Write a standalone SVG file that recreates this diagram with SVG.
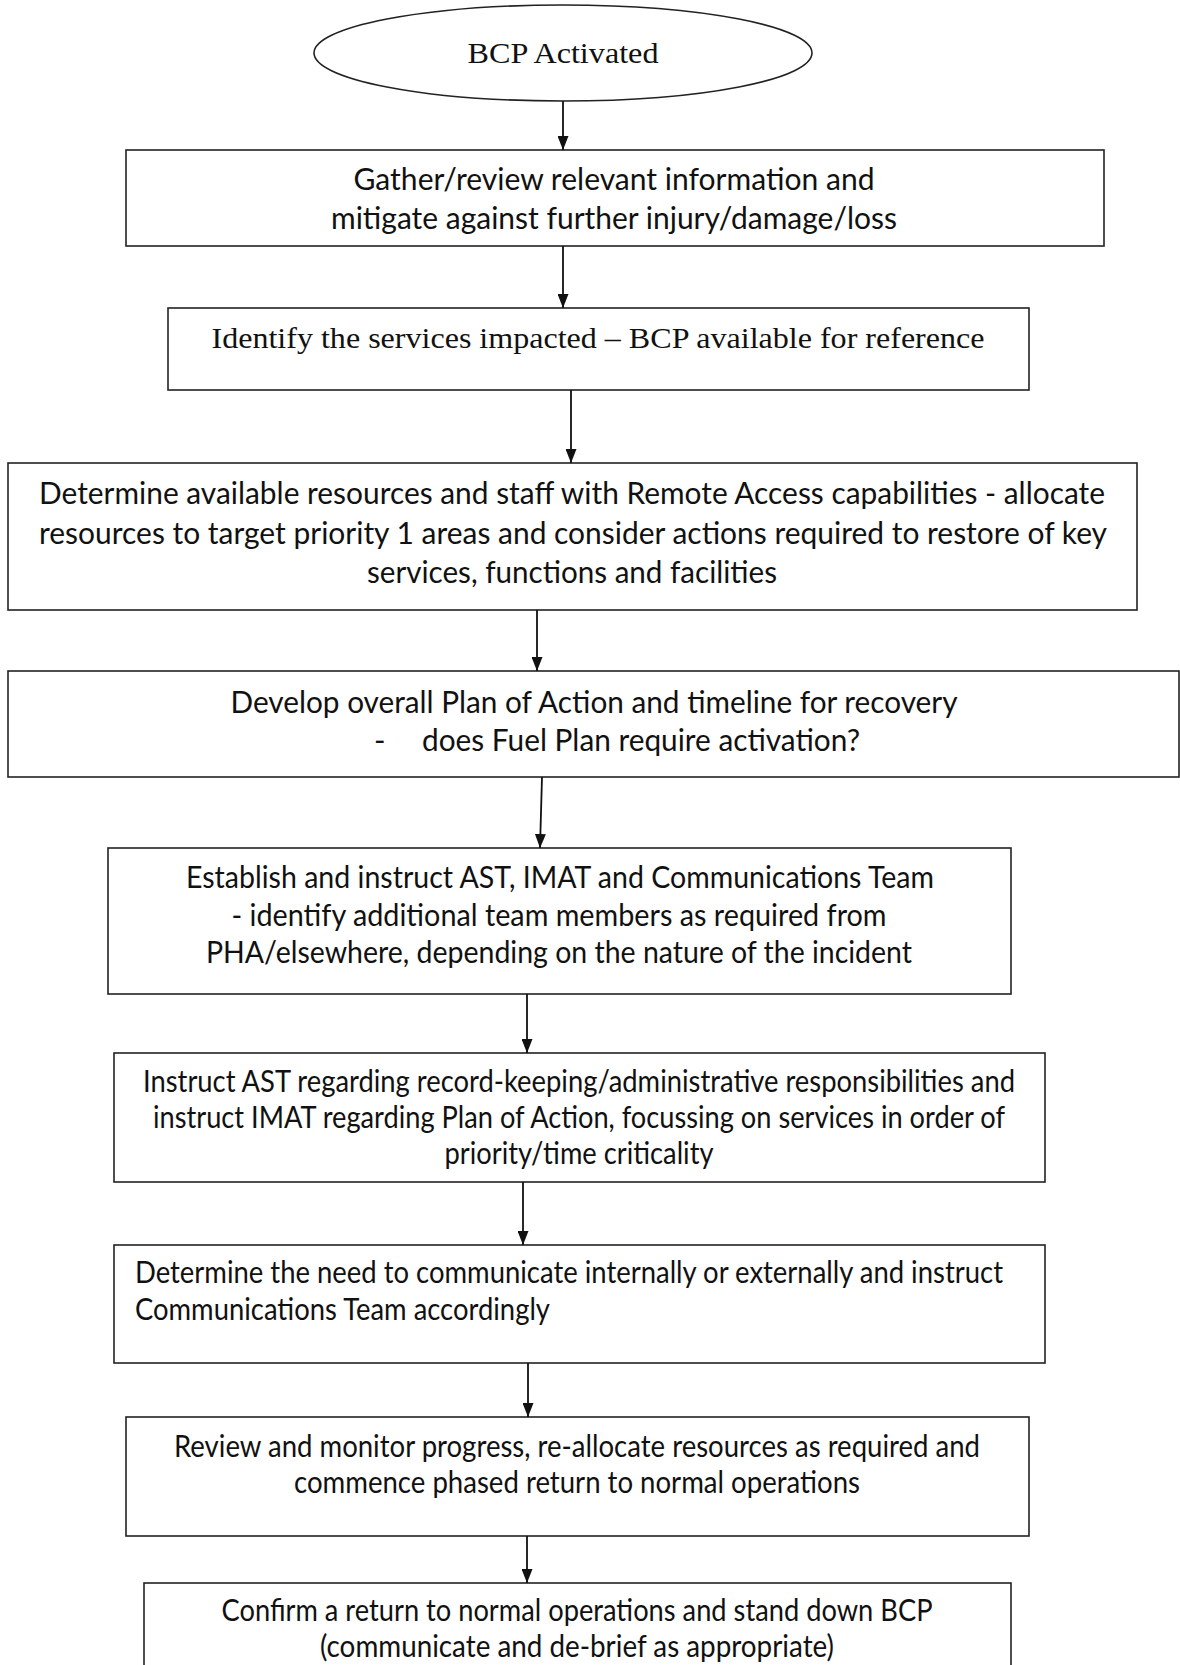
<svg xmlns="http://www.w3.org/2000/svg" width="1180" height="1665" viewBox="0 0 1180 1665">
<style>
.box{fill:#fff;stroke:#222;stroke-width:1.6}
.t{font-family:Lato,"Liberation Sans",sans-serif;font-size:31px;fill:#111}
.s{font-family:"Liberation Serif",serif;font-size:30px;fill:#111}
.c{stroke:#111;stroke-width:1.8;fill:none}
</style>
<defs>
<marker id="ah" viewBox="0 0 14 11" refX="14" refY="5.5" markerWidth="14" markerHeight="11" markerUnits="userSpaceOnUse" orient="auto">
<path d="M0,0 L14,5.5 L0,11 Z" fill="#111"/>
</marker>
</defs>
<rect width="1180" height="1665" fill="#fff"/>
<g id="n0">
<ellipse class="box" cx="563" cy="53" rx="249" ry="48"/>
<text class="s" x="563" y="63" text-anchor="middle" textLength="191" lengthAdjust="spacingAndGlyphs">BCP Activated</text>
</g>
<g id="n1">
<rect class="box" x="126" y="150" width="978" height="96"/>
<text class="t" x="614" y="190" text-anchor="middle" textLength="521" lengthAdjust="spacingAndGlyphs">Gather/review relevant information and</text>
<text class="t" x="614" y="229" text-anchor="middle" textLength="566" lengthAdjust="spacingAndGlyphs">mitigate against further injury/damage/loss</text>
</g>
<g id="n2">
<rect class="box" x="168" y="308" width="861" height="82"/>
<text class="s" x="598" y="348" text-anchor="middle" textLength="773" lengthAdjust="spacingAndGlyphs">Identify the services impacted – BCP available for reference</text>
</g>
<g id="n3">
<rect class="box" x="8" y="463" width="1129" height="147"/>
<text class="t" x="572" y="504" text-anchor="middle" textLength="1066" lengthAdjust="spacingAndGlyphs">Determine available resources and staff with Remote Access capabilities - allocate</text>
<text class="t" x="573" y="544" text-anchor="middle" textLength="1068" lengthAdjust="spacingAndGlyphs">resources to target priority 1 areas and consider actions required to restore of key</text>
<text class="t" x="572" y="583" text-anchor="middle" textLength="410" lengthAdjust="spacingAndGlyphs">services, functions and facilities</text>
</g>
<g id="n4">
<rect class="box" x="8" y="671" width="1171" height="106"/>
<text class="t" x="594" y="713" text-anchor="middle" textLength="727" lengthAdjust="spacingAndGlyphs">Develop overall Plan of Action and timeline for recovery</text>
<text class="t" x="374" y="751">-</text>
<text class="t" x="422" y="751" textLength="438" lengthAdjust="spacingAndGlyphs">does Fuel Plan require activation?</text>
</g>
<g id="n5">
<rect class="box" x="108" y="848" width="903" height="146"/>
<text class="t" x="560" y="888" text-anchor="middle" textLength="748" lengthAdjust="spacingAndGlyphs">Establish and instruct AST, IMAT and Communications Team</text>
<text class="t" x="559" y="926" text-anchor="middle" textLength="655" lengthAdjust="spacingAndGlyphs">- identify additional team members as required from</text>
<text class="t" x="559" y="963" text-anchor="middle" textLength="706" lengthAdjust="spacingAndGlyphs">PHA/elsewhere, depending on the nature of the incident</text>
</g>
<g id="n6">
<rect class="box" x="114" y="1053" width="931" height="129"/>
<text class="t" x="579" y="1092" text-anchor="middle" textLength="872" lengthAdjust="spacingAndGlyphs">Instruct AST regarding record-keeping/administrative responsibilities and</text>
<text class="t" x="579" y="1128" text-anchor="middle" textLength="852" lengthAdjust="spacingAndGlyphs">instruct IMAT regarding Plan of Action, focussing on services in order of</text>
<text class="t" x="579" y="1164" text-anchor="middle" textLength="269" lengthAdjust="spacingAndGlyphs">priority/time criticality</text>
</g>
<g id="n7">
<rect class="box" x="114" y="1245" width="931" height="118"/>
<text class="t" x="135" y="1283" textLength="868" lengthAdjust="spacingAndGlyphs">Determine the need to communicate internally or externally and instruct</text>
<text class="t" x="135" y="1320" textLength="415" lengthAdjust="spacingAndGlyphs">Communications Team accordingly</text>
</g>
<g id="n8">
<rect class="box" x="126" y="1417" width="903" height="119"/>
<text class="t" x="577" y="1457" text-anchor="middle" textLength="806" lengthAdjust="spacingAndGlyphs">Review and monitor progress, re-allocate resources as required and</text>
<text class="t" x="577" y="1493" text-anchor="middle" textLength="566" lengthAdjust="spacingAndGlyphs">commence phased return to normal operations</text>
</g>
<g id="n9">
<rect class="box" x="144" y="1583" width="867" height="100"/>
<text class="t" x="577" y="1621" text-anchor="middle" textLength="711" lengthAdjust="spacingAndGlyphs">Confirm a return to normal operations and stand down BCP</text>
<text class="t" x="577" y="1657" text-anchor="middle" textLength="514" lengthAdjust="spacingAndGlyphs">(communicate and de-brief as appropriate)</text>
</g>
<g id="edges">
<line class="c" x1="563" y1="101" x2="563" y2="150" marker-end="url(#ah)"/>
<line class="c" x1="563" y1="246" x2="563" y2="308" marker-end="url(#ah)"/>
<line class="c" x1="571" y1="390" x2="571" y2="463" marker-end="url(#ah)"/>
<line class="c" x1="537" y1="610" x2="537" y2="671" marker-end="url(#ah)"/>
<line class="c" x1="542" y1="777" x2="540" y2="848" marker-end="url(#ah)"/>
<line class="c" x1="527" y1="994" x2="527" y2="1053" marker-end="url(#ah)"/>
<line class="c" x1="523" y1="1182" x2="523" y2="1245" marker-end="url(#ah)"/>
<line class="c" x1="528" y1="1363" x2="528" y2="1417" marker-end="url(#ah)"/>
<line class="c" x1="527" y1="1536" x2="527" y2="1583" marker-end="url(#ah)"/>
</g>
</svg>
